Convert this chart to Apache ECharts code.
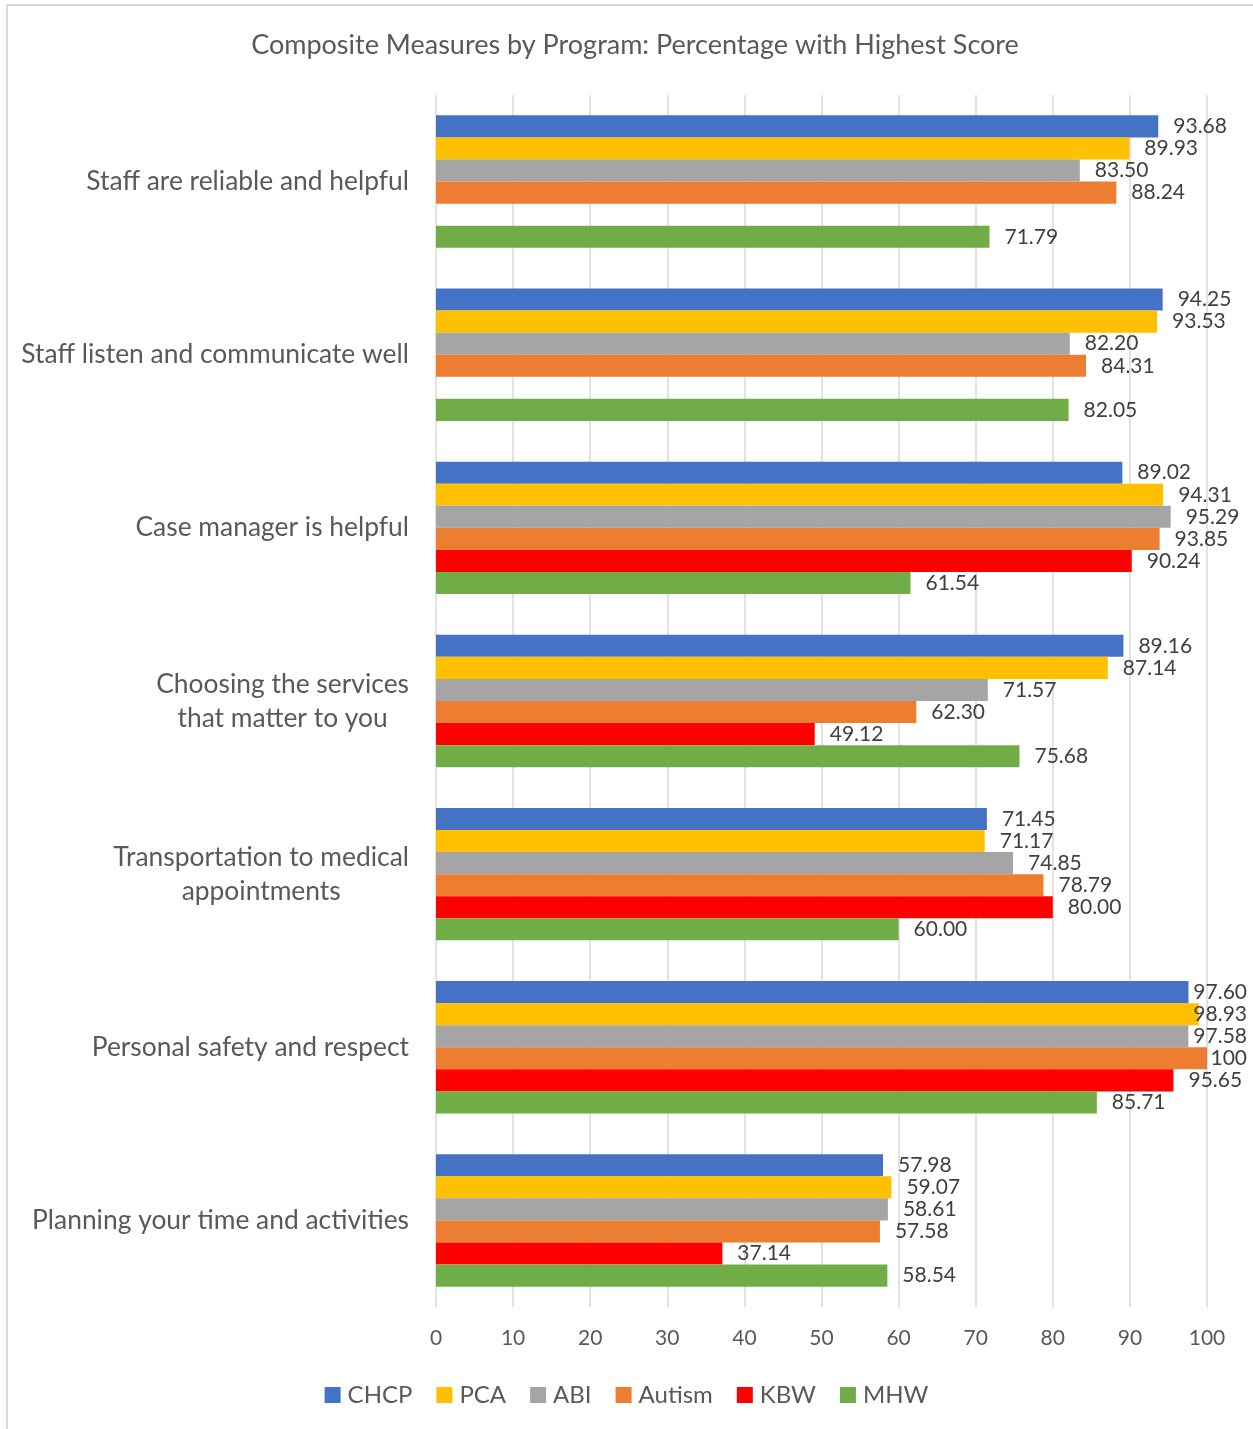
<!DOCTYPE html>
<html>
<head>
<meta charset="utf-8">
<title>Composite Measures by Program</title>
<script src="https://cdn.jsdelivr.net/npm/echarts@6/dist/echarts.min.js"></script>
<style>
  html, body { margin: 0; padding: 0; background: #ffffff; }
  #chart { width: 1253px; height: 1429px; }
</style>
</head>
<body>
<div id="chart"></div>
<script>
// Composite measures, percentage of respondents giving the highest score
const categories = [
  'Staff are reliable and helpful',
  'Staff listen and communicate well',
  'Case manager is helpful',
  'Choosing the services\nthat matter to you',
  'Transportation to medical\nappointments',
  'Personal safety and respect',
  'Planning your time and activities'
];

const programs = ['CHCP', 'PCA', 'ABI', 'Autism', 'KBW', 'MHW'];

const chcp   = [93.68, 94.25, 89.02, 89.16, 71.45, 97.60, 57.98];
const pca    = [89.93, 93.53, 94.31, 87.14, 71.17, 98.93, 59.07];
const abi    = [83.50, 82.20, 95.29, 71.57, 74.85, 97.58, 58.61];
const autism = [88.24, 84.31, 93.85, 62.30, 78.79, 100, 57.58];
const kbw    = [null, null, 90.24, 49.12, 80.00, 95.65, 37.14];
const mhw    = [71.79, 82.05, 61.54, 75.68, 60.00, 85.71, 58.54];

const xTicks = { min: 0, max: 100, interval: 10 };

const colors = ['#4472C4', '#FFC000', '#A5A5A5', '#ED7D31', '#FF0000', '#70AD47'];
const seriesValues = [chcp, pca, abi, autism, kbw, mhw];

const FONT = 'Lato, "Open Sans", sans-serif';
const LABEL_RIGHT_LIMIT = 1247;

const chart = echarts.init(document.getElementById('chart'), null, { renderer: 'canvas' });

const series = programs.map((name, i) => ({
  name: name,
  type: 'bar',
  data: seriesValues[i],
  itemStyle: { color: colors[i] },
  barGap: '0%',
  barCategoryGap: '23.5%',
  label: {
    show: true,
    position: 'right',
    distance: 15,
    color: '#404040',
    fontFamily: FONT,
    fontSize: 21,
    formatter: p => (p.value === 100 ? '100' : Number(p.value).toFixed(2))
  },
  // keep labels inside the chart area near the right edge
  labelLayout: function (params) {
    const r = params.labelRect;
    const over = r.x + r.width - LABEL_RIGHT_LIMIT;
    return { dx: over > 0 ? -over : 0 };
  }
}));

chart.setOption({
  backgroundColor: '#ffffff',
  animation: false,
  title: {
    text: 'Composite Measures by Program: Percentage with Highest Score',
    left: 630,
    textAlign: 'center',
    top: 27,
    textStyle: {
      fontFamily: FONT,
      fontSize: 27,
      fontWeight: 'normal',
      color: '#595959'
    }
  },
  legend: {
    data: programs,
    left: 'center',
    top: 1378,
    icon: 'rect',
    itemWidth: 16,
    itemHeight: 16,
    itemGap: 24,
    textStyle: {
      fontFamily: FONT,
      fontSize: 24,
      color: '#595959',
      padding: [0, 0, 0, 2]
    }
  },
  grid: {
    left: 436,
    right: 46,
    top: 95,
    bottom: 122,
    containLabel: false
  },
  xAxis: {
    type: 'value',
    min: xTicks.min,
    max: xTicks.max,
    interval: xTicks.interval,
    axisLine: { show: false },
    axisTick: { show: false },
    axisLabel: {
      margin: 21,
      fontFamily: FONT,
      fontSize: 21,
      color: '#595959'
    },
    splitLine: {
      show: true,
      lineStyle: { color: '#d9d9d9', width: 1.5 }
    }
  },
  yAxis: {
    type: 'category',
    data: categories,
    inverse: true,
    axisLine: { show: false },
    axisTick: { show: false },
    splitLine: { show: false },
    axisLabel: {
      margin: 27,
      formatter: v => v.split('\n').map(line => '{c|' + line + '}').join('\n'),
      rich: {
        c: {
          align: 'center',
          fontFamily: FONT,
          fontSize: 26.4,
          lineHeight: 34,
          color: '#595959'
        }
      }
    }
  },
  graphic: [{
    type: 'polyline',
    silent: true,
    shape: { points: [[7, 1429], [7, 5], [1253, 5]] },
    style: { stroke: '#d9d9d9', lineWidth: 2, fill: null }
  }],
  series: series
});
</script>
</body>
</html>
